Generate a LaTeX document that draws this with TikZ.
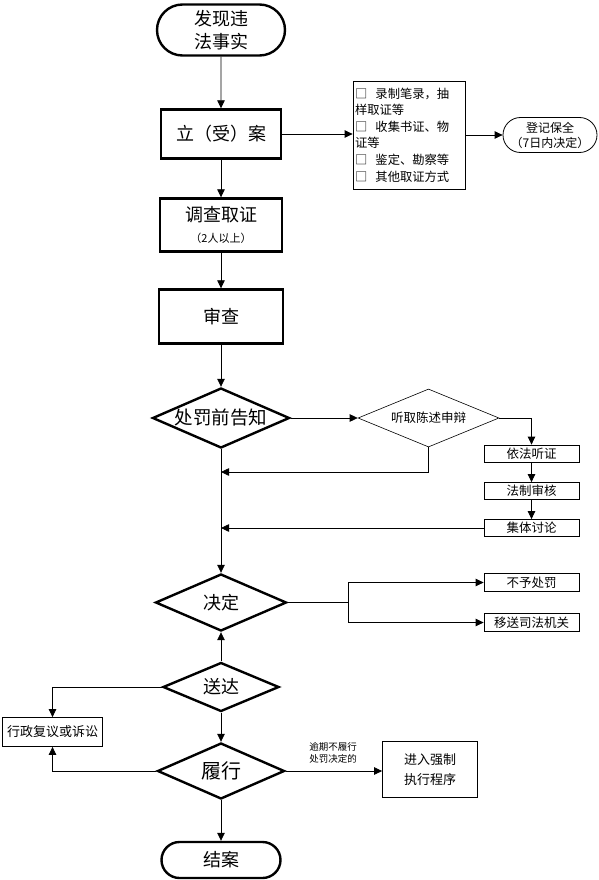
\documentclass[tikz,border=0pt]{standalone}
\usepackage{fontspec}
\setmainfont{Noto Sans CJK SC}
\usetikzlibrary{arrows.meta,shapes.geometric,shapes.misc}
\begin{document}
\begin{tikzpicture}[x=1pt,y=-1pt,
  big/.style={font=\fontsize{18}{23}\selectfont},
  thickbox/.style={draw,line width=2.4pt,inner sep=0pt,align=center,big},
  thinbox/.style={draw,line width=0.8pt,inner sep=0pt,align=center,font=\fontsize{12.5}{15}\selectfont},
  smallbox/.style={thinbox,minimum width=95pt,minimum height=17pt},
  term/.style={draw,rounded rectangle,line width=2.4pt,inner sep=0pt,align=center,big},
  dia/.style={draw,diamond,aspect=2.3,line width=2.4pt,inner sep=0pt,big},
  arr/.style={-{Triangle[length=8pt,width=7.5pt]},line width=0.8pt},
  ln/.style={line width=0.8pt}]
\useasboundingbox (0,0) rectangle (599,880);

% main column
\node[term,minimum width=128pt,minimum height=51pt] (st) at (221,30) {发现违\\法事实};
\node[thickbox,minimum width=120pt,minimum height=49pt] (la) at (221,134) {立（受）案};
\node[thickbox,minimum width=122pt,minimum height=53pt] (dc) at (221,225)
  {调查取证\\[-2pt]{\fontsize{11}{13}\selectfont （2人以上）}};
\node[thickbox,minimum width=124pt,minimum height=54pt] (sc) at (221,316.5) {审查};
\node[dia,minimum width=137pt,minimum height=60pt,font=\fontsize{18.5}{20}\selectfont] (gz) at (221,418) {处罚前告知};
\node[dia,minimum width=131pt,minimum height=57pt] (jd) at (221,602.5) {决定};
\node[dia,minimum width=116pt,minimum height=49pt] (sd) at (221,687) {送达};
\node[dia,minimum width=127pt,minimum height=56pt,font=\fontsize{20}{22}\selectfont] (lx) at (221,771) {履行};
\node[term,minimum width=119pt,minimum height=36pt] (ja) at (221,860) {结案};

% evidence
\node[thinbox,minimum width=112pt,minimum height=108pt,text width=108pt,align=left,
  font=\fontsize{12.3}{16.6}\selectfont] (ev) at (409,135)
  {□\ \ 录制笔录，抽\\样取证等\\□\ \ 收集书证、物\\证等\\□\ \ 鉴定、勘察等\\□\ \ 其他取证方式};
\node[draw,rounded rectangle,line width=0.8pt,inner sep=0pt,align=center,
  minimum width=94pt,minimum height=35pt,font=\fontsize{12}{15}\selectfont] (dj) at (550,135)
  {登记保全\\（7日内决定）};

% hearing branch
\node[draw,diamond,aspect=2.3,line width=0.6pt,inner sep=0pt,minimum width=141pt,minimum height=58pt,
  font=\fontsize{12.5}{15}\selectfont] (tq) at (428.5,418) {听取陈述申辩};
\node[smallbox] (yf) at (531.5,453.5) {依法听证};
\node[smallbox] (fz) at (531.5,491) {法制审核};
\node[smallbox] (jt) at (531.5,528) {集体讨论};
\node[smallbox,minimum height=18pt] (by) at (531.5,582.5) {不予处罚};
\node[smallbox,minimum height=18pt] (ys) at (531.5,622.5) {移送司法机关};

% bottom side boxes
\node[thinbox,minimum width=100pt,minimum height=29pt,font=\fontsize{13}{15}\selectfont] (xz) at (52.5,732) {行政复议或诉讼};
\node[thinbox,minimum width=95pt,minimum height=56pt,font=\fontsize{13}{20}\selectfont] (qz) at (430,769.5) {进入强制\\执行程序};
\node[align=left,inner sep=0pt,font=\fontsize{9.5}{12}\selectfont] (lb) at (333,753) {逾期不履行\\处罚决定的};

\coordinate (c1) at (221,472);
\coordinate (c2) at (348,602.5);

% connectors main
\draw[arr] (st) -- (la);
\draw[arr] (la) -- (dc);
\draw[arr] (dc) -- (sc);
\draw[arr] (sc) -- (gz);
\draw[arr] (gz) -- (jd);
\draw[arr] (sd) -- (jd);
\draw[arr] (sd) -- (lx);
\draw[arr] (lx) -- (ja);
\draw[arr] (la.east) -- (ev.west |- la.east);
\draw[arr] (ev.east |- dj.west) -- (dj.west);

% hearing
\draw[arr] (gz.east) -- (tq.west);
\draw[arr] (tq.east) -| (yf.north);
\draw[arr] (tq.south) |- (c1);
\draw[arr] (yf) -- (fz);
\draw[arr] (fz) -- (jt);
\draw[arr] (jt.west) -- (jt.west -| gz.south);

% decision
\draw[ln] (jd.east) -- (c2);
\draw[arr] (c2) |- (by.west);
\draw[arr] (c2) |- (ys.west);

% review
\draw[arr] (sd.west) -| (xz.north);
\draw[arr] (lx.west) -| (xz.south);
\draw[arr] (lx.east) -- (qz.west |- lx.east);
\end{tikzpicture}
\end{document}
